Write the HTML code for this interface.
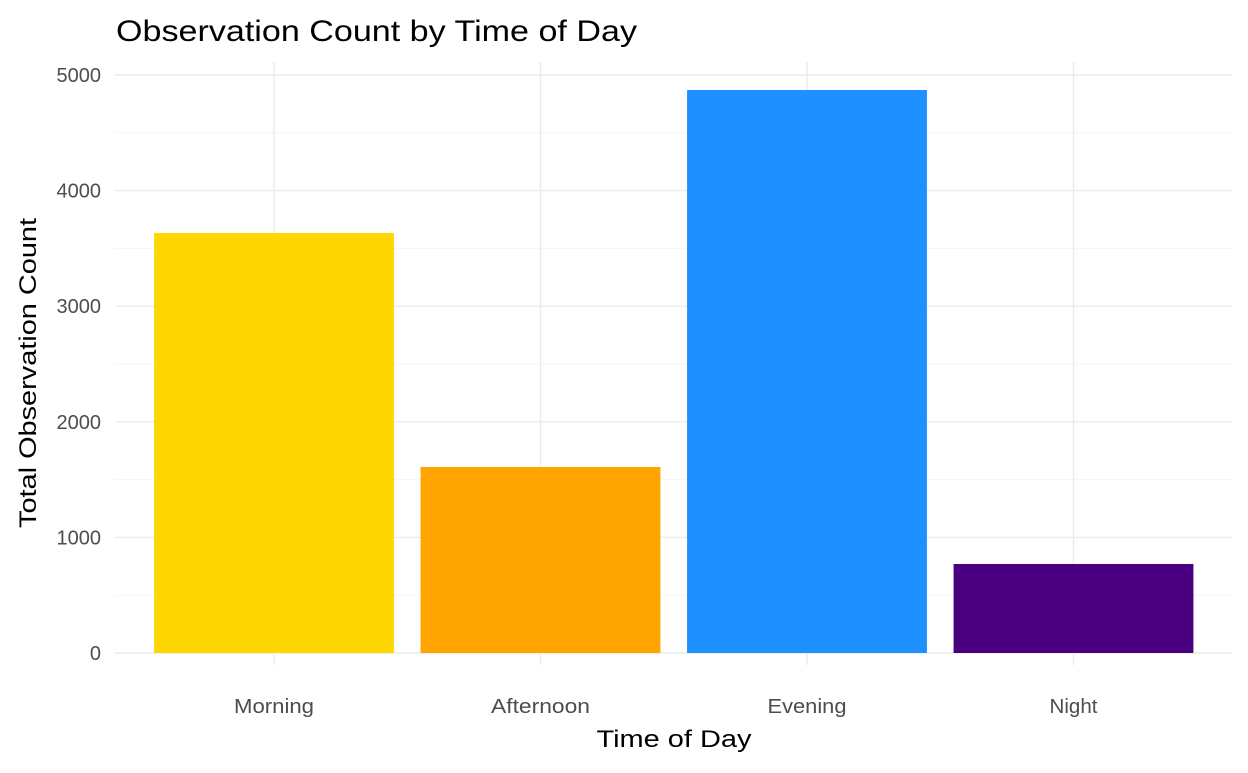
<!DOCTYPE html>
<html><head><meta charset="utf-8"><style>
body{margin:0;background:#fff;font-family:"Liberation Sans",Arial,sans-serif}
</style></head><body>
<svg id="chart" width="1248" height="768">
<text x="116" y="41" font-size="30" textLength="521" lengthAdjust="spacingAndGlyphs" fill="#000">Observation Count by Time of Day</text>
<g id="grid"></g><g id="bars"></g><g id="axes"></g>
<text x="674" y="747" font-size="24" textLength="155" lengthAdjust="spacingAndGlyphs" text-anchor="middle" fill="#000">Time of Day</text>
<text transform="translate(36,373) rotate(-90)" font-size="24" textLength="310" lengthAdjust="spacingAndGlyphs" text-anchor="middle" fill="#000">Total Observation Count</text>
</svg>
<script>
const categories=["Morning","Afternoon","Evening","Night"];
const counts=[3633,1609,4870,770];
const colors=["#FFD700","#FFA500","#1E90FF","#4B0082"];
const yTicks=[0,1000,2000,3000,4000,5000];
const ns="http://www.w3.org/2000/svg";
const L=115,R=1232,Y0=653,Y5=75;
const y=v=>Y0-(v/5000)*(Y0-Y5);
const step=266.5;
const x=i=>274+step*i;
function mk(t,a,p){const e=document.createElementNS(ns,t);for(const k in a)e.setAttribute(k,a[k]);p.appendChild(e);return e;}
const grid=document.getElementById('grid'),bars=document.getElementById('bars'),axes=document.getElementById('axes');
for(let k=0;k<yTicks.length;k++){
 const v=yTicks[k];
 const g=mk('line',{x1:L,x2:R,y1:y(v),y2:y(v),stroke:'#ebebeb','stroke-width':1.4},grid);
 
 
 if(k<yTicks.length-1){const m=mk('line',{x1:L,x2:R,y1:y(v+500),y2:y(v+500),stroke:'#f3f3f3','stroke-width':0.8},grid);
 
 }
 const t=mk('text',{x:101,y:y(v)+7,'text-anchor':'end','font-size':20,fill:'#4d4d4d'},axes);
 t.textContent=v;
 
 
}
const tickW=[80,99,79,48];
categories.forEach((c,i)=>{
 const g=mk('line',{x1:x(i),x2:x(i),y1:62,y2:665,stroke:'#ebebeb','stroke-width':1.4},grid);
 
 
 const w=step*0.9;
 const b=mk('rect',{x:x(i)-w/2,y:y(counts[i]),width:w,height:Y0-y(counts[i]),fill:colors[i]},bars);
 
 
 const t=mk('text',{x:x(i),y:713,'text-anchor':'middle','font-size':20,textLength:tickW[i],lengthAdjust:'spacingAndGlyphs',fill:'#4d4d4d'},axes);
 t.textContent=c;
 
 
});
</script>
</body></html>
